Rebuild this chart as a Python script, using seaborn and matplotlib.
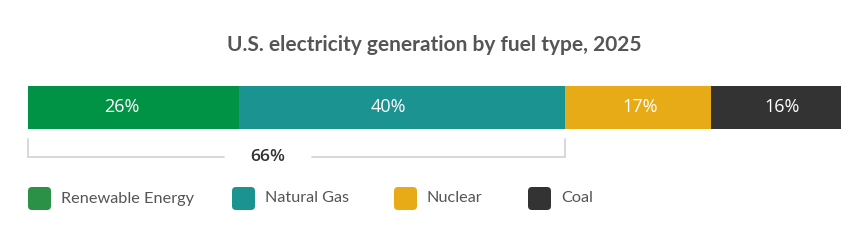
import matplotlib
matplotlib.use("Agg")
import matplotlib.pyplot as plt
import matplotlib.transforms as mtransforms
from matplotlib.patches import FancyBboxPatch
import seaborn as sns
import pandas as pd
import numpy as np

# ---- data ----
categories = ["Renewable Energy", "Natural Gas", "Nuclear", "Coal"]
shares = [25.9, 40.1, 17.9, 16.0]
share_labels = ["26%", "40%", "17%", "16%"]
colors = ["#009245", "#1b9391", "#e6ab17", "#333333"]
legend_colors = ["#2a9147", "#1b9391", "#e6ab17", "#333333"]
bracket_label = "66%"
title = "U.S. electricity generation by fuel type, 2025"

# ---- styling (pixel offsets / positions) ----
label_dx = [-12, -14, 2, 6]
leg_x = [28, 232, 394, 528]

sns.set_theme(style="white")
plt.rcParams["font.family"] = ["Open Sans", "DejaVu Sans"]

W, H = 868, 248
fig = plt.figure(figsize=(W / 100, H / 100), dpi=100)

def fx(px):
    return px / W

def fy(py):
    return 1 - py / H

bar_left, bar_right, bar_top, bar_bot = 28, 841, 86, 129
ax = fig.add_axes([fx(bar_left), fy(bar_bot), fx(bar_right - bar_left), (bar_bot - bar_top) / H])

cum = np.cumsum(shares)
total = cum[-1]
# stacked bars drawn back to front (largest cumulative first)
for i in reversed(range(len(categories))):
    df = pd.DataFrame({"value": [cum[i]], "row": ["all"]})
    sns.barplot(data=df, x="value", y="row", orient="h", color=colors[i],
                width=1.0, saturation=1, ax=ax, linewidth=0, edgecolor="none")

ax.set_xlim(0, total)
ax.set_ylim(0.5, -0.5)
ax.axis("off")

starts = np.concatenate([[0], cum[:-1]])
for s, v, lab, dx in zip(starts, shares, share_labels, label_dx):
    off = mtransforms.offset_copy(ax.transData, fig=fig, x=dx, y=0, units="dots")
    ax.text(s + v / 2, 0, lab, ha="center", va="center", color="white",
            fontsize=13, family=["Open Sans", "DejaVu Sans"], transform=off)

# bracket under renewable + gas
trans = mtransforms.blended_transform_factory(ax.transData, fig.transFigure)
b_left, b_right = 0, cum[1]
y_top, y_bot = fy(139), fy(157)
lc = "#d6d6d6"
lw = 1.3
fig.add_artist(plt.Line2D([b_left, b_left], [y_top, y_bot], transform=trans, color=lc, lw=lw))
fig.add_artist(plt.Line2D([b_right, b_right], [y_top, y_bot], transform=trans, color=lc, lw=lw))
lab_x = b_left + 0.447 * (b_right - b_left)
gap = 0.082 * (b_right - b_left)
fig.add_artist(plt.Line2D([b_left, lab_x - gap], [y_bot, y_bot], transform=trans, color=lc, lw=lw))
fig.add_artist(plt.Line2D([lab_x + gap, b_right], [y_bot, y_bot], transform=trans, color=lc, lw=lw))
fig.text(lab_x, y_bot, bracket_label, transform=trans, ha="center", va="center",
         fontsize=12.5, fontweight="semibold", color="#333333")

# title
fig.text(0.5, fy(45), title, ha="center", va="center", fontsize=15,
         fontweight="bold", color="#555555", family=["Lato", "DejaVu Sans"])

# legend (pixel coordinates, origin bottom-left)
px_tr = mtransforms.IdentityTransform()
sq_w, sq_h = 23, 23
leg_cy = 198.5
for x0, c, name in zip(leg_x, legend_colors, categories):
    p = FancyBboxPatch((x0, H - (leg_cy + sq_h / 2)), sq_w, sq_h,
                       boxstyle="round,pad=0,rounding_size=4",
                       transform=px_tr, facecolor=c, edgecolor="none")
    fig.add_artist(p)
    fig.text(fx(x0 + 33), fy(leg_cy), name, ha="left", va="center",
             fontsize=11.7, color="#555555", family=["Lato", "DejaVu Sans"])

fig.savefig("out.png", dpi=100, facecolor="white")
